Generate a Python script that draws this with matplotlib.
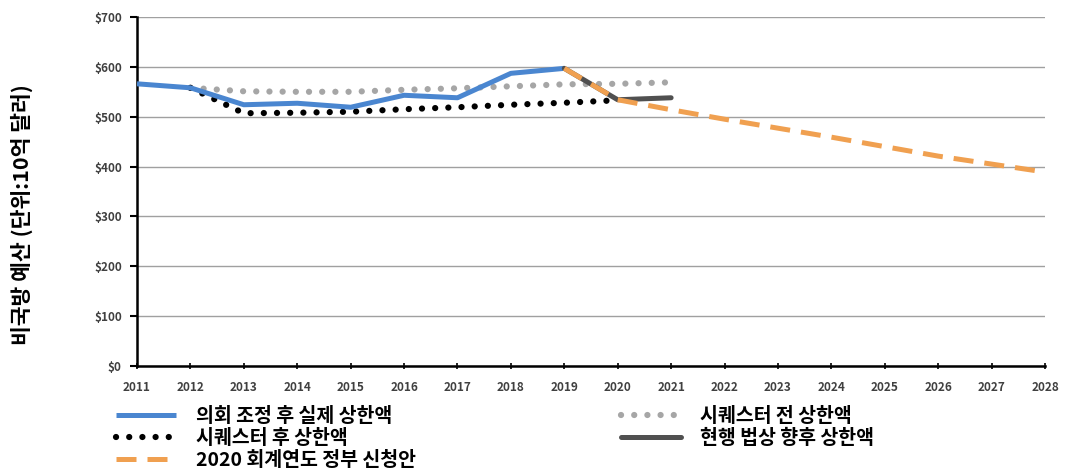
import matplotlib
matplotlib.use("Agg")
import matplotlib.pyplot as plt
from matplotlib.ticker import FuncFormatter, MultipleLocator

plt.rcParams['font.family'] = ['Noto Sans CJK KR', 'DejaVu Sans']

years = list(range(2011, 2029))

# Budget caps, billions of dollars
actual_years = list(range(2011, 2020))
actual = [566, 558, 524, 527, 519, 543, 538, 587, 597]

pre_seq_years = list(range(2012, 2022))
pre_seq = [558, 551, 550, 550, 554, 557, 561, 565, 566, 569]

post_seq_years = list(range(2012, 2021))
post_seq = [558, 507, 508, 510, 515, 519, 524, 528, 533]

current_law_years = [2019, 2020, 2021]
current_law = [597, 534, 538]

request_years = list(range(2019, 2029))
request = [597, 534, 514, 495, 477, 459, 440, 421, 405, 389]

labels_left = ["의회 조정 후 실제 상한액", "시퀘스터 후 상한액", "2020 회계연도 정부 신청안"]
labels_right = ["시퀘스터 전 상한액", "현행 법상 향후 상한액"]

fig = plt.figure(figsize=(10.69, 4.73), dpi=100)
ax = fig.add_axes([137/1069, 1-366/473, (1045-137)/1069, (366-17)/473])

h_pre, = ax.plot(pre_seq_years, pre_seq, color='#a6a6a6', lw=4.5, ls=(0, (0.01, 2.1)),
                 dash_capstyle='round', zorder=2)
h_post, = ax.plot(post_seq_years, post_seq, color='black', lw=4.5, ls=(0, (0.01, 2.1)),
                  dash_capstyle='round', zorder=3)
h_act, = ax.plot(actual_years, actual, color='#4a86d0', lw=3.6, zorder=4,
                 solid_capstyle='butt')
h_cur, = ax.plot(current_law_years, current_law, color='#505050', lw=3.6, zorder=4,
                 solid_capstyle='round')
h_req, = ax.plot(request_years, request, color='#f0a050', lw=3.6, ls=(0, (4, 2.2)),
                 zorder=5)

ax.set_xlim(2011, 2028)
ax.set_ylim(0, 700)
ax.set_xticks(years)
ax.yaxis.set_major_locator(MultipleLocator(100))
ax.yaxis.set_major_formatter(FuncFormatter(lambda v, p: f"${int(v)}"))
ax.grid(axis='y', color='#a0a0a0', lw=1)
ax.set_axisbelow(True)
for s in ['top', 'right']:
    ax.spines[s].set_visible(False)
for s in ['left', 'bottom']:
    ax.spines[s].set_linewidth(1.8)
ax.tick_params(axis='y', length=5, width=1.5, labelsize=8.5, pad=6)
ax.tick_params(axis='x', length=5, width=1.2, direction='inout', labelsize=8.5, pad=8)
for t in ax.get_xticklabels() + ax.get_yticklabels():
    t.set_fontweight('bold')
    t.set_color('#404040')

fig.text(22/1069, 1-215/473, "비국방 예산 (단위:10억 달러)", rotation=90,
         ha='center', va='center', fontsize=15.5, fontweight='bold')

legend_kw = dict(loc='upper left', frameon=False,
                 prop={'size': 14, 'weight': 'bold'}, handlelength=3.1,
                 labelspacing=0.15, handletextpad=1.0, borderaxespad=0)
leg1 = fig.legend([h_act, h_post, h_req], labels_left,
                  bbox_to_anchor=(108/1069, 1-399/473), **legend_kw)
leg2 = fig.legend([h_pre, h_cur], labels_right,
                  bbox_to_anchor=(613/1069, 1-399/473), **legend_kw)

fig.savefig("out.png", dpi=100)
